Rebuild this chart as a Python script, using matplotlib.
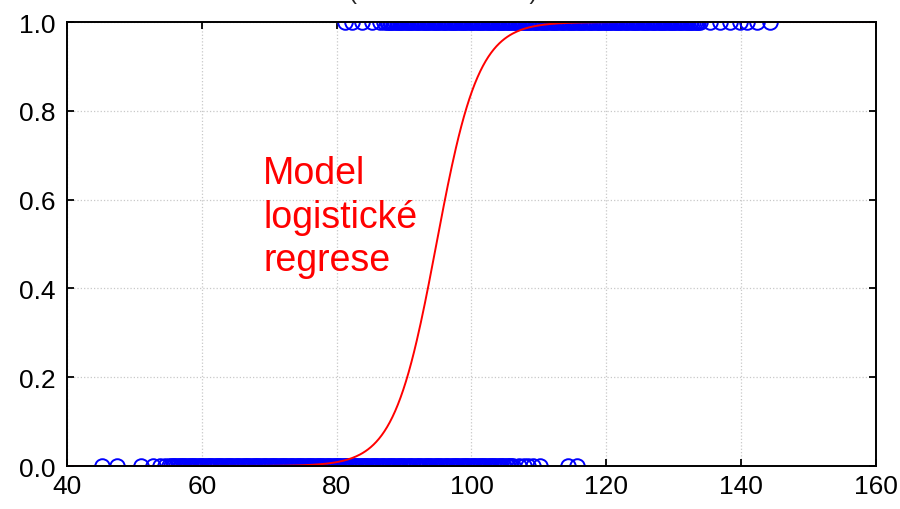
import matplotlib
matplotlib.use("Agg")
import matplotlib.pyplot as plt
import numpy as np

plt.rcParams['font.family'] = ['Liberation Sans', 'DejaVu Sans']

# pozorovani s vysledkem 0 (x hodnoty)
x_nula = [45.2, 47.4, 51.0, 52.8, 53.8, 54.5,
          55.2, 55.4, 55.7, 55.9, 56.2, 56.4, 56.7, 56.9, 57.2, 57.4, 57.7, 57.9,
          58.2, 58.4, 58.7, 58.9, 59.2, 59.4, 59.7, 59.9,
          60.2, 60.4, 60.7, 60.9, 61.2, 61.4, 61.7, 61.9, 62.2, 62.4, 62.7, 62.9,
          63.2, 63.4, 63.7, 63.9, 64.2, 64.4, 64.7, 64.9,
          65.2, 65.4, 65.7, 65.9, 66.2, 66.4, 66.7, 66.9, 67.2, 67.4, 67.7, 67.9,
          68.2, 68.4, 68.7, 68.9, 69.2, 69.4, 69.7, 69.9,
          70.2, 70.4, 70.7, 70.9, 71.2, 71.4, 71.7, 71.9, 72.2, 72.4, 72.7, 72.9,
          73.2, 73.4, 73.7, 73.9, 74.2, 74.4, 74.7, 74.9,
          75.2, 75.4, 75.7, 75.9, 76.2, 76.4, 76.7, 76.9, 77.2, 77.4, 77.7, 77.9,
          78.2, 78.4, 78.7, 78.9, 79.2, 79.4, 79.7, 79.9,
          80.2, 80.4, 80.7, 80.9, 81.2, 81.4, 81.7, 81.9, 82.2, 82.4, 82.7, 82.9,
          83.2, 83.4, 83.7, 83.9, 84.2, 84.4, 84.7, 84.9,
          85.2, 85.4, 85.7, 85.9, 86.2, 86.4, 86.7, 86.9, 87.2, 87.4, 87.7, 87.9,
          88.2, 88.4, 88.7, 88.9, 89.2, 89.4, 89.7, 89.9,
          90.2, 90.4, 90.7, 90.9, 91.2, 91.4, 91.7, 91.9, 92.2, 92.4, 92.7, 92.9,
          93.2, 93.4, 93.7, 93.9, 94.2, 94.4, 94.7, 94.9,
          95.2, 95.4, 95.7, 95.9, 96.2, 96.4, 96.7, 96.9, 97.2, 97.4, 97.7, 97.9,
          98.2, 98.4, 98.7, 98.9, 99.2, 99.4, 99.7, 99.9,
          100.2, 100.4, 100.7, 100.9, 101.2, 101.4, 101.7, 101.9, 102.2, 102.4,
          102.7, 102.9, 103.2, 103.4, 103.7, 103.9, 104.2, 104.4, 104.7, 104.9,
          105.2, 105.4, 105.7, 105.9, 106.1,
          107.0, 107.8, 108.4, 109.1, 110.2, 114.3, 115.6]

# pozorovani s vysledkem 1
x_jedna = [81.2, 82.3, 83.8, 85.2, 86.4,
           87.1, 87.4, 87.6, 87.9, 88.1, 88.4, 88.6, 88.9, 89.1, 89.4, 89.6, 89.9,
           90.1, 90.4, 90.6, 90.9, 91.1, 91.4, 91.6, 91.9, 92.1, 92.4, 92.6, 92.9,
           93.1, 93.4, 93.6, 93.9, 94.1, 94.4, 94.6, 94.9,
           95.1, 95.4, 95.6, 95.9, 96.1, 96.4, 96.6, 96.9, 97.1, 97.4, 97.6, 97.9,
           98.1, 98.4, 98.6, 98.9, 99.1, 99.4, 99.6, 99.9,
           100.1, 100.4, 100.6, 100.9, 101.1, 101.4, 101.6, 101.9, 102.1, 102.4,
           102.6, 102.9, 103.1, 103.4, 103.6, 103.9, 104.1, 104.4, 104.6, 104.9,
           105.1, 105.4, 105.6, 105.9, 106.1, 106.4, 106.6, 106.9, 107.1, 107.4,
           107.6, 107.9, 108.1, 108.4, 108.6, 108.9, 109.1, 109.4, 109.6, 109.9,
           110.1, 110.4, 110.6, 110.9, 111.1, 111.4, 111.6, 111.9, 112.1, 112.4,
           112.6, 112.9, 113.1, 113.4, 113.6, 113.9, 114.1, 114.4, 114.6, 114.9,
           115.1, 115.4, 115.6, 115.9, 116.1, 116.4, 116.6, 116.9, 117.1, 117.4,
           117.6, 117.9, 118.1, 118.4, 118.6, 118.9, 119.1, 119.4, 119.6, 119.9,
           120.1, 120.4, 120.6, 120.9, 121.1, 121.4, 121.6, 121.9, 122.1, 122.4,
           122.6, 122.9, 123.1, 123.4, 123.6, 123.9, 124.1, 124.4, 124.6, 124.9,
           125.1, 125.4, 125.6, 125.9, 126.1, 126.4, 126.6, 126.9, 127.1, 127.4,
           127.6, 127.9, 128.1, 128.4, 128.6, 128.9, 129.1, 129.4, 129.6, 129.9,
           130.1, 130.4, 130.6, 130.9, 131.1, 131.4, 131.6, 131.9, 132.1, 132.4,
           132.6, 132.9, 133.1, 133.4, 133.6, 133.9,
           135.4, 136.9, 138.3, 139.8, 140.9, 142.3, 144.3]

# koeficienty modelu logisticke regrese
b1 = 0.32
stred = 94.8
b0 = -b1 * stred

xlim = (40, 160)
xticks = [40, 60, 80, 100, 120, 140, 160]
yticks = [0.0, 0.2, 0.4, 0.6, 0.8, 1.0]

fig = plt.figure(figsize=(9, 5.1), dpi=100)
ax = fig.add_axes([0.0744, 0.0843, 0.8989, 0.8706])

ax.plot(x_nula, np.zeros(len(x_nula)), 'o', mfc='none', mec='#0000ff',
        ms=10.5, mew=1.4, zorder=3)
ax.plot(x_jedna, np.ones(len(x_jedna)), 'o', mfc='none', mec='#0000ff',
        ms=10.5, mew=1.4, zorder=3)

xx = np.linspace(xlim[0], xlim[1], 600)
p = 1.0 / (1.0 + np.exp(-(b0 + b1 * xx)))
ax.plot(xx, p, color='#ff0000', lw=1.4, zorder=4)

ax.text(69.1, 0.700, 'Model\nlogistické\nregrese', color='#ff0000',
        fontsize=27, ha='left', va='top', linespacing=1.27)

ax.set_xlim(*xlim)
ax.set_ylim(0, 1)
ax.set_xticks(xticks)
ax.set_yticks(yticks)
ax.set_yticklabels(['%.1f' % v for v in yticks])
ax.grid(True, color='#c8c8c8', linestyle=':', linewidth=0.9)
ax.set_axisbelow(True)
for s in ax.spines.values():
    s.set_linewidth(1.4)
    s.set_zorder(5)
ax.tick_params(direction='in', top=True, right=True, length=5, width=1.3,
               labelsize=19)
ax.tick_params(axis='x', pad=6)
ax.tick_params(axis='y', pad=8)

# titulek je v originale oriznuty hornim okrajem
fig.text(0.492, 1 + 1.0 / 510, '(simulovaná data)', fontsize=17,
         ha='center', va='baseline', color='#222222')

fig.savefig('out.png', dpi=100)
